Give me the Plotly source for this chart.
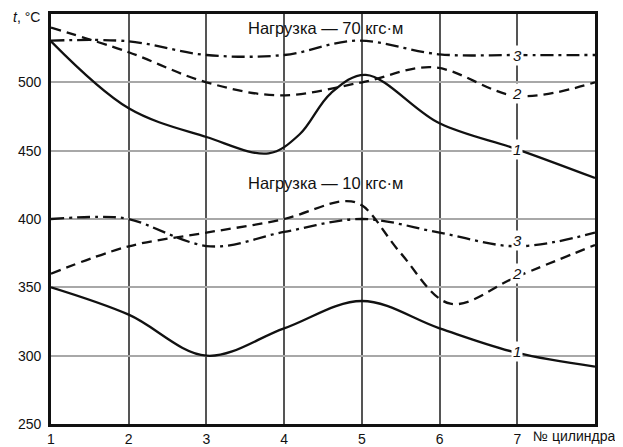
import plotly.graph_objects as go

# ---- data ----
x_ticks = [1, 2, 3, 4, 5, 6, 7]
x_tick_labels = ["1", "2", "3", "4", "5", "6", "7"]
y_ticks = [250, 300, 350, 400, 450, 500]

# Load 70 kgf·m
x_70_1 = [1, 2, 3, 3.8, 4.2, 4.6, 5.05, 6, 7, 8]
t_70_1 = [530, 481, 460, 448, 462, 492, 505.5, 470, 451, 430]
x_70_2 = [1, 2, 3, 3.95, 5, 5.92, 7, 8]
t_70_2 = [540, 522, 500, 490.5, 500, 511, 490, 500]
x_70_3 = [1, 2, 3, 4, 4.93, 6, 7, 8]
t_70_3 = [530.5, 530, 520, 520, 530.5, 520.5, 520, 520]

# Load 10 kgf·m
x_10_1 = [1, 2, 3, 4, 5, 6, 7, 8]
t_10_1 = [350, 330, 300, 320, 340, 320, 302, 292]
x_10_2 = [1, 2, 3, 4, 4.76, 5, 5.5, 6.14, 7, 8]
t_10_2 = [360, 380, 390, 400, 413, 410, 375, 338, 358, 381]
x_10_3 = [1, 1.6, 2, 3.05, 4, 5, 6, 7, 8]
t_10_3 = [400, 401.5, 400, 380, 390.5, 400, 390, 380, 390]

curve_labels = ["1", "2", "3", "1", "2", "3"]
label_x = 7
label_y = [451, 492, 520, 303, 360, 384]

title_70 = "Нагрузка — 70 кгс·м"
title_10 = "Нагрузка — 10 кгс·м"
title_x = 4.53
title_y = [540, 426]

FONT = "Liberation Sans, Arial, sans-serif"
INK = "#111111"

SOLID = "solid"
DASH = "10px,6px"
DASHDOT = "13px,5px,3px,5px"

fig = go.Figure()
series = [
    (x_70_1, t_70_1, SOLID), (x_70_2, t_70_2, DASH), (x_70_3, t_70_3, DASHDOT),
    (x_10_1, t_10_1, SOLID), (x_10_2, t_10_2, DASH), (x_10_3, t_10_3, DASHDOT),
]
for xs, ts, dash in series:
    fig.add_trace(go.Scatter(
        x=xs, y=ts, mode="lines",
        line=dict(color=INK, width=2.3, dash=dash, shape="spline", smoothing=1.0),
        showlegend=False, hoverinfo="skip", cliponaxis=True,
    ))

annotations = []
for txt, yy in zip(curve_labels, label_y):
    annotations.append(dict(
        x=label_x, y=yy, xref="x", yref="y", text=f"<i>{txt}</i>",
        showarrow=False, bgcolor="white", borderpad=1,
        font=dict(family=FONT, size=15, color=INK),
    ))
for txt, yy in zip([title_70, title_10], title_y):
    annotations.append(dict(
        x=title_x, y=yy, xref="x", yref="y", text=txt, showarrow=False,
        font=dict(family=FONT, size=16.5, color=INK),
    ))
annotations.append(dict(
    x=-0.016, y=0.992, xref="paper", yref="paper", text="<i>t</i>, °C",
    xanchor="right", yanchor="middle", showarrow=False,
    font=dict(family=FONT, size=14, color=INK),
))
annotations.append(dict(
    x=1.04, y=-0.03, xref="paper", yref="paper", text="№ цилиндра",
    xanchor="right", yanchor="middle", showarrow=False,
    font=dict(family=FONT, size=14, color=INK),
))

# page body has an 8px default margin, so the figure is sized to fit the window
fig.update_layout(
    width=615, height=439,
    margin=dict(l=43, r=28, t=6, b=23, autoexpand=False),
    paper_bgcolor="white", plot_bgcolor="white",
    font=dict(family=FONT, size=14, color=INK),
    annotations=annotations,
    xaxis=dict(
        range=[1, 8], tickvals=x_ticks, ticktext=x_tick_labels,
        showgrid=True, gridcolor="#555555", gridwidth=1.6,
        showline=True, linecolor=INK, linewidth=2.5, mirror=True,
        zeroline=False, ticks="", tickfont=dict(size=14), automargin=False,
    ),
    yaxis=dict(
        range=[250, 550], tickvals=y_ticks,
        showgrid=True, gridcolor="#a8a8a8", gridwidth=1.8,
        showline=True, linecolor=INK, linewidth=2.8, mirror=True,
        zeroline=False, ticks="", tickfont=dict(size=14), automargin=False,
        ticklabelstandoff=4,
    ),
)

fig.write_html("out.html")
